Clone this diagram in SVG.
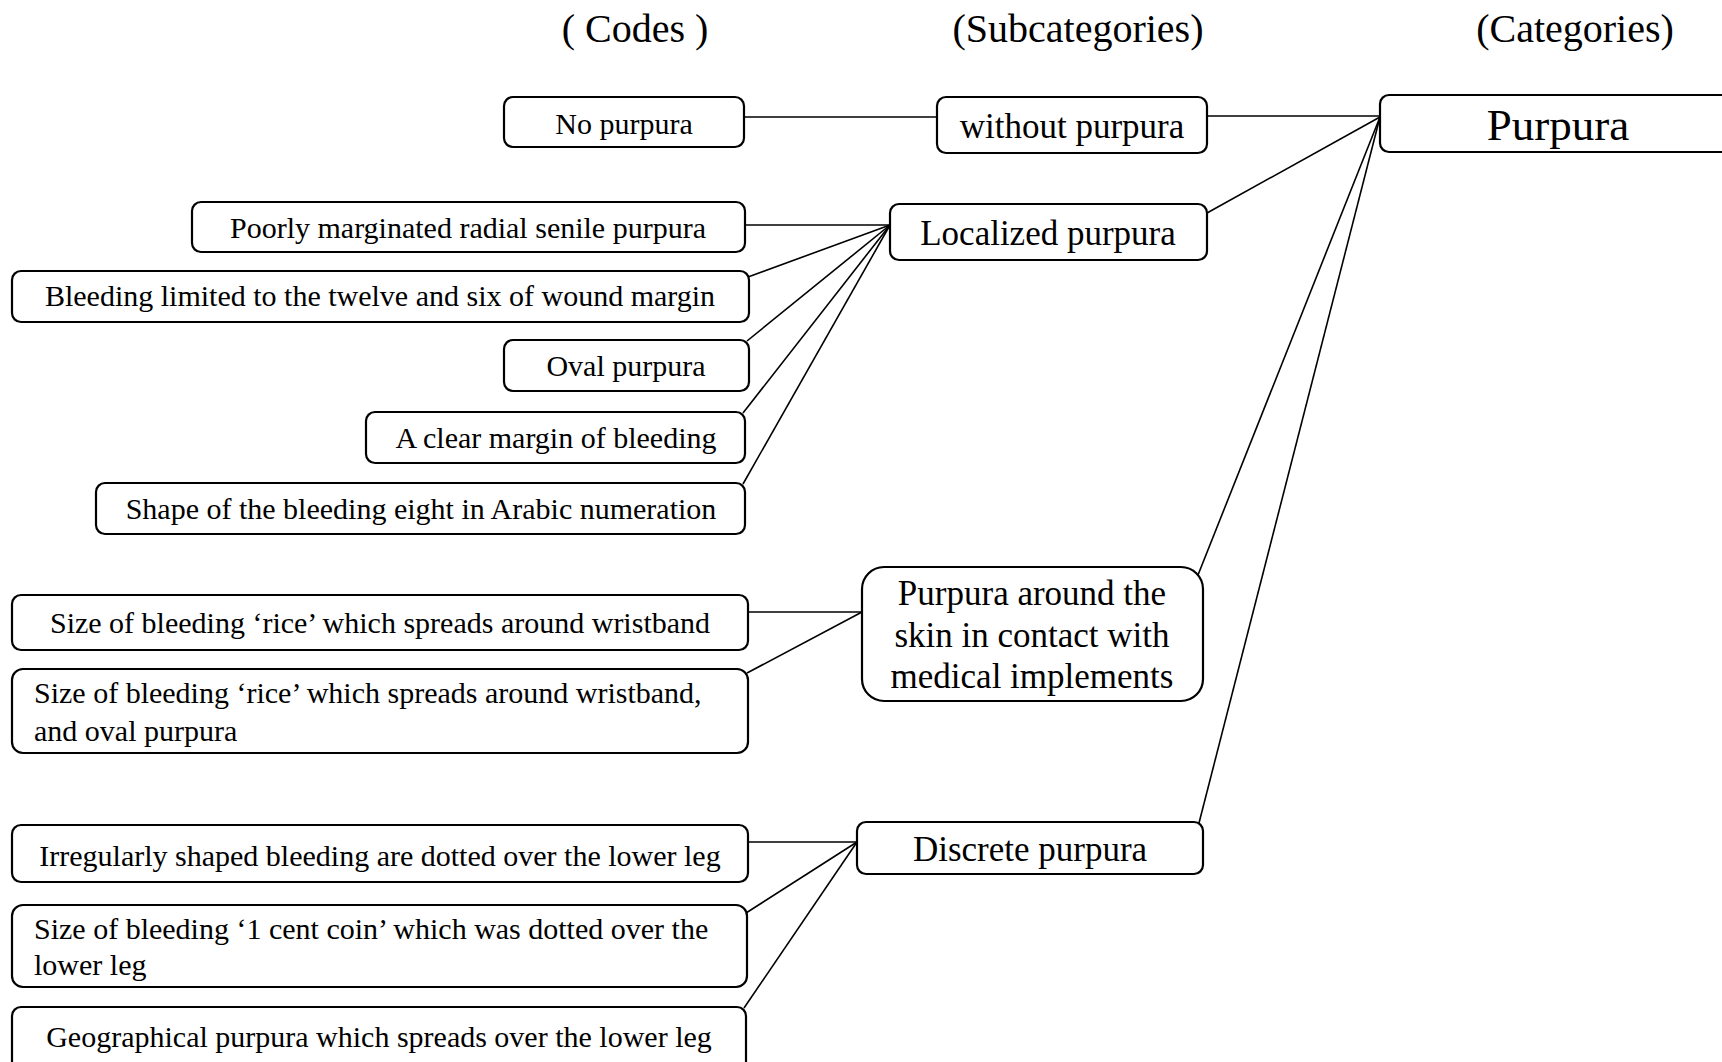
<svg xmlns="http://www.w3.org/2000/svg" width="1722" height="1062" viewBox="0 0 1722 1062">
  <style>
    .box { fill: #fff; stroke: #000; stroke-width: 2.2; }
    .link { stroke: #000; stroke-width: 1.6; fill: none; }
    text { font-family: "Liberation Serif", "Times New Roman", serif; fill: #000; }
    .head { font-size: 40px; text-anchor: middle; }
    .code { font-size: 30px; text-anchor: middle; }
    .codeL { font-size: 30px; }
    .sub { font-size: 35px; text-anchor: middle; }
    .cat { font-size: 45px; text-anchor: middle; }
  </style>
  <rect width="1722" height="1062" fill="#fff"/>

  <!-- column headings -->
  <g id="headings">
    <text class="head" x="635" y="42">( Codes )</text>
    <text class="head" x="1078" y="42">(Subcategories)</text>
    <text class="head" x="1575" y="42">(Categories)</text>
  </g>

  <!-- connectors -->
  <g id="connectors">
    <line class="link" x1="744" y1="117" x2="937" y2="117"/>
    <line class="link" x1="1207" y1="116" x2="1380" y2="116"/>
    <line class="link" x1="1207" y1="213" x2="1380" y2="117"/>
    <line class="link" x1="1198" y1="575" x2="1380" y2="117"/>
    <line class="link" x1="1199" y1="823" x2="1380" y2="117"/>

    <line class="link" x1="745" y1="225" x2="890" y2="225"/>
    <line class="link" x1="748" y1="277" x2="890" y2="225"/>
    <line class="link" x1="747" y1="341" x2="890" y2="225"/>
    <line class="link" x1="743" y1="413" x2="890" y2="225"/>
    <line class="link" x1="743" y1="484" x2="890" y2="225"/>

    <line class="link" x1="748" y1="612" x2="862" y2="612"/>
    <line class="link" x1="747" y1="673" x2="862" y2="612"/>

    <line class="link" x1="748" y1="842" x2="857" y2="842"/>
    <line class="link" x1="746" y1="913" x2="857" y2="842"/>
    <line class="link" x1="744" y1="1008" x2="857" y2="842"/>
  </g>

  <!-- codes -->
  <g id="code-no-purpura">
    <rect class="box" x="504" y="97" width="240" height="50" rx="9"/>
    <text class="code" x="624" y="134">No purpura</text>
  </g>
  <g id="code-poorly-marginated">
    <rect class="box" x="192" y="202" width="553" height="50" rx="9"/>
    <text class="code" x="468" y="238">Poorly marginated radial senile purpura</text>
  </g>
  <g id="code-twelve-six">
    <rect class="box" x="12" y="271" width="737" height="51" rx="9"/>
    <text class="code" x="380" y="306">Bleeding limited to the twelve and six of wound margin</text>
  </g>
  <g id="code-oval">
    <rect class="box" x="504" y="340" width="245" height="51" rx="9"/>
    <text class="code" x="626" y="376">Oval purpura</text>
  </g>
  <g id="code-clear-margin">
    <rect class="box" x="366" y="412" width="379" height="51" rx="9"/>
    <text class="code" x="556" y="448">A clear margin of bleeding</text>
  </g>
  <g id="code-eight">
    <rect class="box" x="96" y="483" width="649" height="51" rx="9"/>
    <text class="code" x="421" y="519">Shape of the bleeding eight in Arabic numeration</text>
  </g>
  <g id="code-rice">
    <rect class="box" x="12" y="595" width="736" height="55" rx="9"/>
    <text class="code" x="380" y="633">Size of bleeding ‘rice’ which spreads around wristband</text>
  </g>
  <g id="code-rice-oval">
    <rect class="box" x="12" y="669" width="736" height="84" rx="11"/>
    <text class="codeL" x="34" y="703">Size of bleeding ‘rice’ which spreads around wristband,</text>
    <text class="codeL" x="34" y="741">and oval purpura</text>
  </g>
  <g id="code-irregular">
    <rect class="box" x="12" y="825" width="736" height="57" rx="9"/>
    <text class="code" x="380" y="866">Irregularly shaped bleeding are dotted over the lower leg</text>
  </g>
  <g id="code-cent-coin">
    <rect class="box" x="12" y="905" width="735" height="82" rx="11"/>
    <text class="codeL" x="34" y="939">Size of bleeding ‘1 cent coin’ which was dotted over the</text>
    <text class="codeL" x="34" y="975">lower leg</text>
  </g>
  <g id="code-geographical">
    <rect class="box" x="12" y="1007" width="734" height="80" rx="9"/>
    <text class="code" x="379" y="1047">Geographical purpura which spreads over the lower leg</text>
  </g>

  <!-- subcategories -->
  <g id="sub-without">
    <rect class="box" x="937" y="97" width="270" height="56" rx="9"/>
    <text class="sub" x="1072" y="138">without purpura</text>
  </g>
  <g id="sub-localized">
    <rect class="box" x="890" y="204" width="317" height="56" rx="9"/>
    <text class="sub" x="1048" y="245">Localized purpura</text>
  </g>
  <g id="sub-implements">
    <rect class="box" x="862" y="567" width="341" height="134" rx="22"/>
    <text class="sub" x="1032" y="605">Purpura around the</text>
    <text class="sub" x="1032" y="647">skin in contact with</text>
    <text class="sub" x="1032" y="688">medical implements</text>
  </g>
  <g id="sub-discrete">
    <rect class="box" x="857" y="822" width="346" height="52" rx="9"/>
    <text class="sub" x="1030" y="861">Discrete purpura</text>
  </g>

  <!-- category -->
  <g id="cat-purpura">
    <rect class="box" x="1380" y="95" width="380" height="57" rx="9"/>
    <text class="cat" x="1558" y="140">Purpura</text>
  </g>
</svg>
